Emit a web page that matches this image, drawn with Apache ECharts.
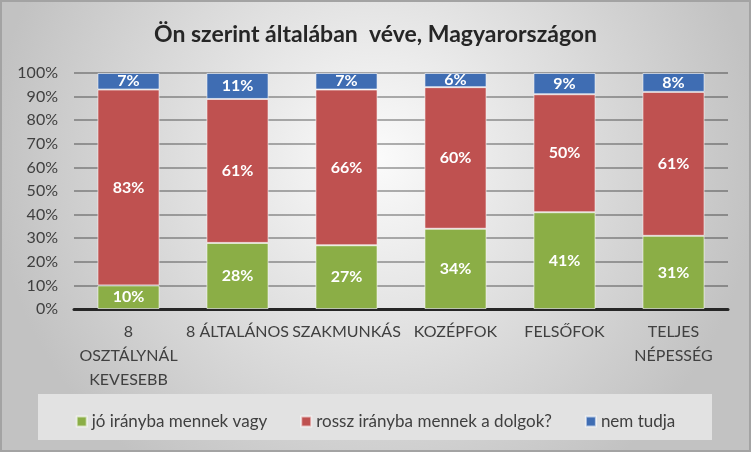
<!DOCTYPE html>
<html>
<head>
<meta charset="utf-8">
<script src="https://cdn.jsdelivr.net/npm/echarts@6/dist/echarts.min.js"></script>
<style>
  html, body { margin: 0; padding: 0; }
  #main { width: 751px; height: 452px; }
</style>
</head>
<body>
<div id="main"></div>
<script>
var categories = ['8\nOSZTÁLYNÁL\nKEVESEBB', '8 ÁLTALÁNOS', 'SZAKMUNKÁS', 'KOZÉPFOK', 'FELSŐFOK', 'TELJES\nNÉPESSÉG'];
var seriesNames = ['jó irányba mennek vagy', 'rossz irányba mennek a dolgok?', 'nem tudja'];
var good = [10, 28, 27, 34, 41, 31];
var bad = [83, 61, 66, 60, 50, 61];
var dontKnow = [7, 11, 7, 6, 9, 8];
var colors = ['#8bae46', '#bf5150', '#3f6db3'];

var font = "Lato, 'Open Sans', sans-serif";
var chart = echarts.init(document.getElementById('main'));

function barSeries(name, data) {
  return {
    name: name,
    type: 'bar',
    stack: 'total',
    barWidth: '57%',
    data: data,
    itemStyle: { borderColor: 'rgba(255,255,255,0.6)', borderWidth: 1 },
    label: {
      show: true,
      position: 'inside',
      formatter: '{c}%',
      color: '#fff',
      fontWeight: 'bold',
      fontSize: 16,
      fontFamily: font
    }
  };
}

var option = {
  animation: false,
  color: colors,
  backgroundColor: {
    type: 'radial', x: 0.5, y: 0.35, r: 0.85,
    colorStops: [
      { offset: 0, color: '#fbfbfb' },
      { offset: 1, color: '#c2c2c2' }
    ]
  },
  graphic: [
    {
      type: 'rect',
      shape: { x: 1, y: 1, width: 749, height: 450 },
      style: { fill: 'none', stroke: '#a3a3a3', lineWidth: 2 }
    },
    {
      type: 'rect',
      shape: { x: 38, y: 394, width: 674, height: 46 },
      style: { fill: '#e2e2e2' }
    }
  ],
  title: {
    text: 'Ön szerint általában  véve, Magyarországon',
    left: 'center',
    top: 18,
    textStyle: { fontFamily: font, fontSize: 23, fontWeight: 'bold', color: '#262626' }
  },
  legend: {
    data: seriesNames,
    left: 'center',
    top: 408,
    itemWidth: 10,
    itemHeight: 10,
    itemGap: 33,
    icon: 'rect',
    textStyle: { fontFamily: font, fontSize: 17, color: '#404040' }
  },
  grid: { left: 74, right: 23, top: 73, bottom: 143 },
  xAxis: {
    type: 'category',
    data: categories,
    axisTick: { show: false },
    axisLine: { lineStyle: { color: '#262626', width: 3 } },
    axisLabel: {
      interval: 0,
      margin: 11,
      fontFamily: font,
      fontSize: 16,
      lineHeight: 24,
      color: '#404040'
    }
  },
  yAxis: {
    type: 'value',
    min: 0,
    max: 100,
    interval: 10,
    axisLine: { show: false },
    axisTick: { show: false },
    axisLabel: { formatter: '{value}%', margin: 16, fontFamily: font, fontSize: 16, color: '#404040' },
    splitLine: { lineStyle: { color: 'rgba(0,0,0,0.3)', width: 2 } }
  },
  series: [
    barSeries(seriesNames[0], good),
    barSeries(seriesNames[1], bad),
    barSeries(seriesNames[2], dontKnow)
  ]
};

chart.setOption(option);
</script>
</body>
</html>
